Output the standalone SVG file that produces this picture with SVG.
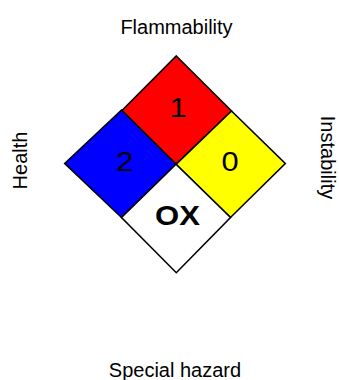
<svg xmlns="http://www.w3.org/2000/svg" width="339" height="380" viewBox="0 0 339 380">
<style>
.sq{stroke:#000;stroke-width:1.6;stroke-linejoin:miter}
.lbl{font-family:"Liberation Sans",Arial,sans-serif;font-size:20px;fill:#000;text-anchor:middle}
.num{font-family:"Liberation Sans",Arial,sans-serif;font-size:28px;fill:#000;text-anchor:middle}
.ox{font-family:"Liberation Sans",Arial,sans-serif;font-size:27.5px;font-weight:bold;fill:#000;text-anchor:middle}
</style>
<rect width="339" height="380" fill="#fff"/>
<g id="flammability">
<polygon class="sq" fill="#ff0000" points="176.3,56 231.5,111 176,164.3 122,110.5"/>
<text class="num" transform="translate(178,117) scale(1.1,1)">1</text>
</g>
<g id="health">
<polygon class="sq" fill="#0000ff" points="121.5,110 176,164.3 121.5,217.5 64.7,163.5"/>
<text class="num" transform="translate(124.7,170.7) scale(1.1,1)">2</text>
</g>
<g id="instability">
<polygon class="sq" fill="#ffff00" points="231.5,111 285.3,163.5 230.5,217.5 176,164.3"/>
<text class="num" transform="translate(230,171) scale(1.1,1)">0</text>
</g>
<g id="special">
<polygon class="sq" fill="#ffffff" points="176,164.3 230.5,217.5 176.3,272.7 121.5,217.5"/>
<text class="ox" transform="translate(177.5,224.5) scale(1.13,1)">OX</text>
</g>
<g id="labels">
<text class="lbl" x="176.5" y="34">Flammability</text>
<text class="lbl" x="175" y="377">Special hazard</text>
<text class="lbl" transform="translate(26.5,160.5) rotate(-90)">Health</text>
<text class="lbl" transform="translate(320.5,157.5) rotate(90)">Instability</text>
</g>
</svg>
